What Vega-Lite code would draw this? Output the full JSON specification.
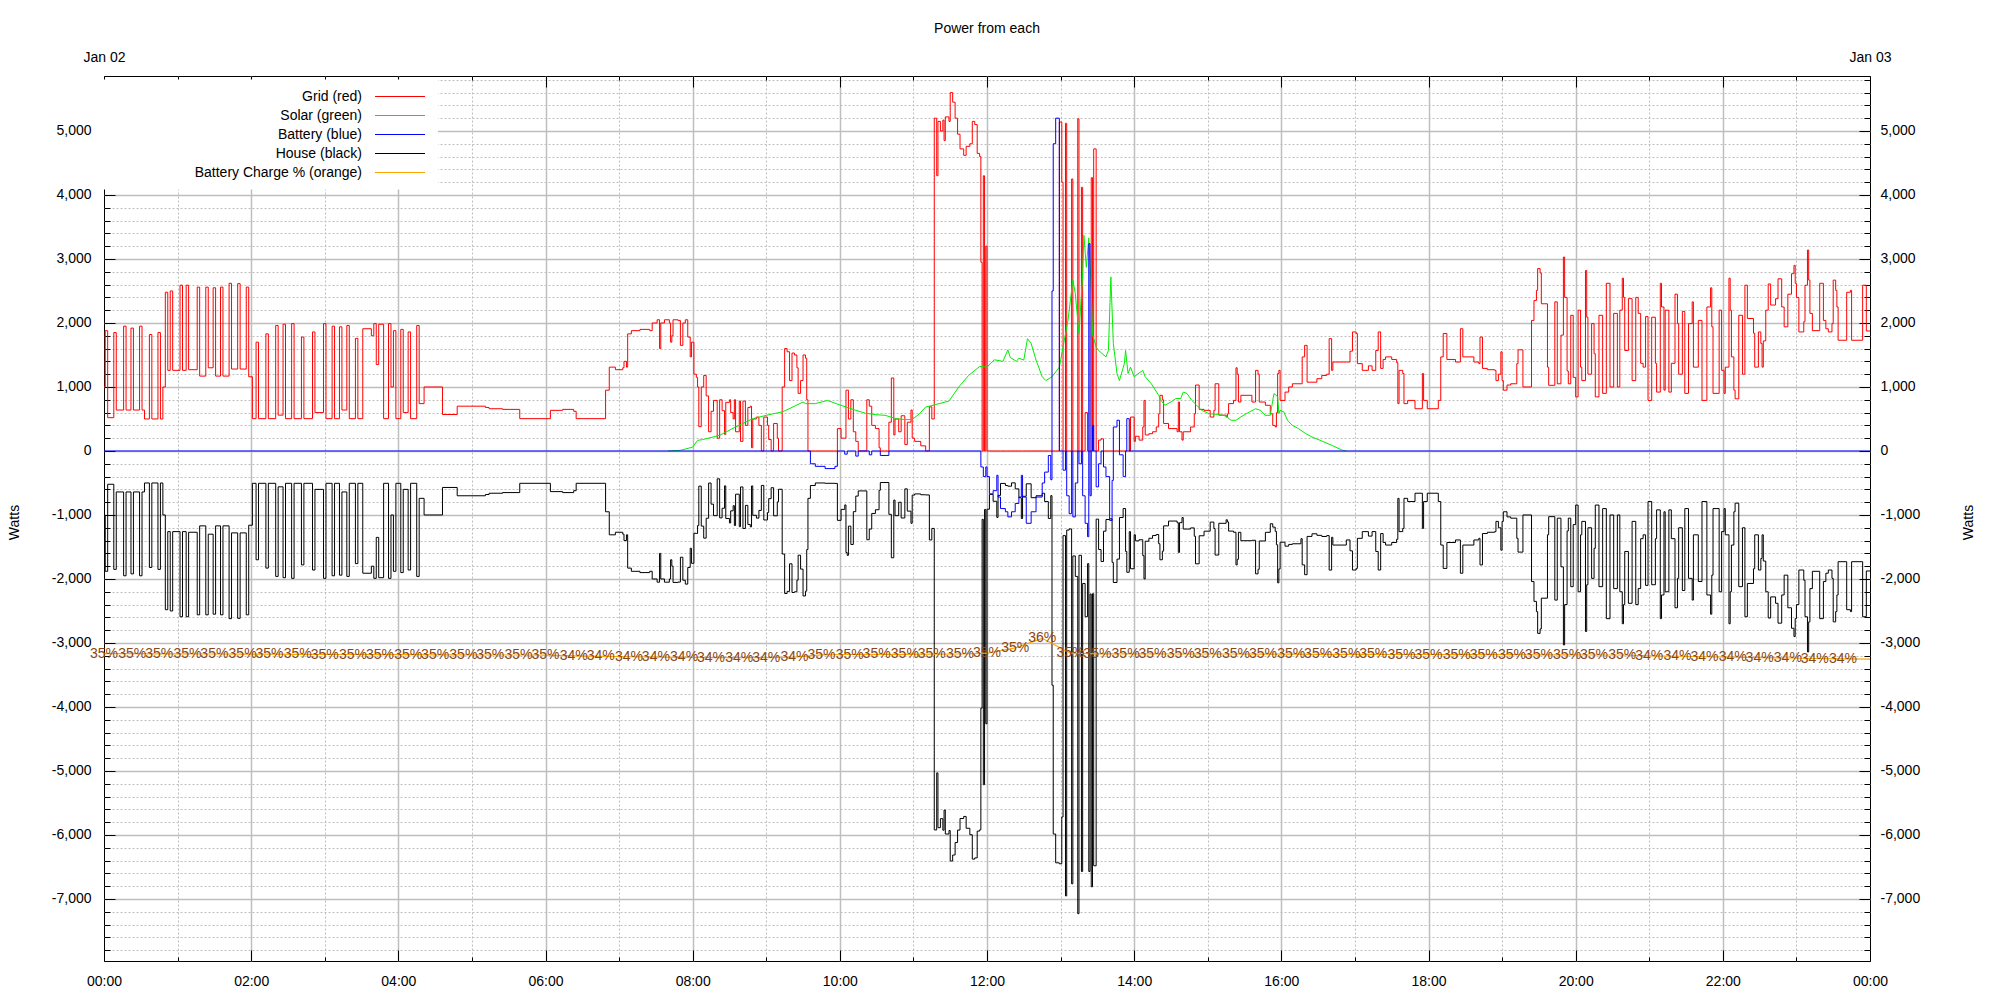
{
"$schema":"https://vega.github.io/schema/vega-lite/v6.json",
"width":1766,"height":885,
"autosize":{"type":"none"},
"padding":{"left":104,"top":76,"right":130,"bottom":39},
"title":{"text":"Power from each","fontSize":14,"fontWeight":"normal","font":"Liberation Sans","color":"black","offset":14,"anchor":"middle"},
"config":{"view":{"stroke":"black","strokeWidth":1},"font":"Liberation Sans",
"locale":{"number":{"decimal":".","thousands":",","grouping":[3],"currency":["$",""],"minus":"-"}},
"axis":{"labelFont":"Liberation Sans","labelFontSize":14,"labelColor":"black","tickColor":"black","tickWidth":1,"domain":false,"grid":false,"title":null,"labelFlush":false,"labelOverlap":false,"labelBound":false,"gridColor":"#bebebe"}},
"datasets":{
"gh":[
{"t":"2 00:00","g":1000,"h":-1000},{"t":"2 00:01","g":1880,"h":-1880},{"t":"2 00:03","g":520,"h":-520},{"t":"2 00:08","g":1850,"h":-1850},{"t":"2 00:10","g":640,"h":-640},{"t":"2 00:16","g":1950,"h":-1950},{"t":"2 00:18","g":640,"h":-640},{"t":"2 00:22","g":1920,"h":-1920},{"t":"2 00:24","g":640,"h":-640},{"t":"2 00:29","g":1950,"h":-1950},{"t":"2 00:31","g":640,"h":-640},{"t":"2 00:33","g":500,"h":-500},{"t":"2 00:37","g":1820,"h":-1820},{"t":"2 00:39","g":500,"h":-500},{"t":"2 00:44","g":1850,"h":-1850},{"t":"2 00:46","g":500,"h":-500},{"t":"2 00:48","g":1000,"h":-1000},{"t":"2 00:50","g":2480,"h":-2480},{"t":"2 00:52","g":1260,"h":-1260},{"t":"2 00:54","g":2500,"h":-2500},{"t":"2 00:56","g":1260,"h":-1260},{"t":"2 01:02","g":2590,"h":-2590},{"t":"2 01:04","g":1260,"h":-1260},{"t":"2 01:07","g":2590,"h":-2590},{"t":"2 01:09","g":1270,"h":-1270},{"t":"2 01:16","g":2560,"h":-2560},{"t":"2 01:18","g":1170,"h":-1170},{"t":"2 01:23","g":2560,"h":-2560},{"t":"2 01:25","g":1300,"h":-1300},{"t":"2 01:29","g":2550,"h":-2550},{"t":"2 01:31","g":1170,"h":-1170},{"t":"2 01:35","g":2560,"h":-2560},{"t":"2 01:37","g":1170,"h":-1170},{"t":"2 01:42","g":2620,"h":-2620},{"t":"2 01:44","g":1280,"h":-1280},{"t":"2 01:49","g":2615,"h":-2615},{"t":"2 01:51","g":1280,"h":-1280},{"t":"2 01:56","g":2560,"h":-2560},{"t":"2 01:58","g":1160,"h":-1160},
{"t":"2 02:01","g":505,"h":-505},{"t":"2 02:04","g":1700,"h":-1700},{"t":"2 02:06","g":505,"h":-505},{"t":"2 02:12","g":1830,"h":-1830},{"t":"2 02:14","g":505,"h":-505},{"t":"2 02:20","g":1960,"h":-1960},{"t":"2 02:22","g":560,"h":-560},{"t":"2 02:26","g":1980,"h":-1980},{"t":"2 02:28","g":505,"h":-505},{"t":"2 02:33","g":1990,"h":-1990},{"t":"2 02:35","g":505,"h":-505},{"t":"2 02:41","g":1780,"h":-1780},{"t":"2 02:43","g":505,"h":-505},{"t":"2 02:50","g":1860,"h":-1860},{"t":"2 02:52","g":600,"h":-600},{"t":"2 02:59","g":1990,"h":-1990},{"t":"2 03:01","g":505,"h":-505},{"t":"2 03:06","g":1950,"h":-1950},{"t":"2 03:08","g":505,"h":-505},{"t":"2 03:12","g":1940,"h":-1940},{"t":"2 03:14","g":640,"h":-640},{"t":"2 03:18","g":1960,"h":-1960},{"t":"2 03:20","g":505,"h":-505},{"t":"2 03:25","g":1760,"h":-1760},{"t":"2 03:27","g":505,"h":-505},{"t":"2 03:31","g":1910,"h":-1910},{"t":"2 03:38","g":1800,"h":-1800},{"t":"2 03:40","g":1990,"h":-1990},{"t":"2 03:42","g":1350,"h":-1350},{"t":"2 03:44","g":1980,"h":-1980},{"t":"2 03:48","g":505,"h":-505},{"t":"2 03:52","g":1990,"h":-1990},{"t":"2 03:54","g":1000,"h":-1000},{"t":"2 03:56","g":1880,"h":-1880},{"t":"2 03:58","g":505,"h":-505},{"t":"2 04:02","g":1900,"h":-1900},{"t":"2 04:04","g":600,"h":-600},{"t":"2 04:08","g":1860,"h":-1860},{"t":"2 04:10","g":505,"h":-505},{"t":"2 04:15","g":1960,"h":-1960},{"t":"2 04:17","g":740,"h":-740},{"t":"2 04:21","g":1000,"h":-1000},{"t":"2 04:36","g":570,"h":-570},{"t":"2 04:48","g":700,"h":-700},{"t":"2 05:11","g":680,"h":-680},{"t":"2 05:14","g":660,"h":-660},{"t":"2 05:25","g":650,"h":-650},{"t":"2 05:39","g":505,"h":-505},{"t":"2 06:04","g":635,"h":-635},{"t":"2 06:14","g":650,"h":-650},{"t":"2 06:23","g":620,"h":-620},{"t":"2 06:25","g":505,"h":-505},{"t":"2 06:49","g":950,"h":-950},{"t":"2 06:52","g":1310,"h":-1310},{"t":"2 06:57","g":1270,"h":-1270},{"t":"2 07:03","g":1300,"h":-1300},{"t":"2 07:04","g":1400,"h":-1400},{"t":"2 07:06","g":1310,"h":-1310},{"t":"2 07:07","g":1830,"h":-1830},{"t":"2 07:10","g":1880,"h":-1880},{"t":"2 07:17","g":1900,"h":-1900},{"t":"2 07:25","g":1880,"h":-1880},{"t":"2 07:27","g":2000,"h":-2000},{"t":"2 07:31","g":2050,"h":-2050},{"t":"2 07:33","g":1600,"h":-1600},{"t":"2 07:34","g":2000,"h":-2000},{"t":"2 07:37","g":2050,"h":-2050},
{"t":"2 07:41","g":2000,"h":-2000},{"t":"2 07:42","g":1700,"h":-1700},{"t":"2 07:43","g":1800,"h":-1800},{"t":"2 07:44","g":2050,"h":-2054},{"t":"2 07:48","g":2040,"h":-2048},{"t":"2 07:50","g":1650,"h":-1660},{"t":"2 07:52","g":2000,"h":-2020},{"t":"2 07:54","g":2050,"h":-2080},{"t":"2 07:56","g":1780,"h":-1820},{"t":"2 07:58","g":1470,"h":-1520},{"t":"2 07:59","g":1700,"h":-1755},{"t":"2 08:01","g":1200,"h":-1286},{"t":"2 08:03","g":1150,"h":-1290},{"t":"2 08:04","g":1000,"h":-1166},{"t":"2 08:05","g":380,"h":-549},{"t":"2 08:07","g":1000,"h":-1174},{"t":"2 08:09","g":1180,"h":-1362},{"t":"2 08:11","g":860,"h":-1051},{"t":"2 08:13","g":300,"h":-501},{"t":"2 08:15","g":620,"h":-831},{"t":"2 08:17","g":790,"h":-1011},{"t":"2 08:20","g":200,"h":-435},{"t":"2 08:22","g":800,"h":-1045},{"t":"2 08:24","g":630,"h":-895},{"t":"2 08:26","g":260,"h":-545},{"t":"2 08:27","g":760,"h":-1055},{"t":"2 08:30","g":800,"h":-1125},{"t":"2 08:31","g":600,"h":-935},{"t":"2 08:33","g":500,"h":-855},{"t":"2 08:34","g":800,"h":-1165},{"t":"2 08:35","g":300,"h":-675},{"t":"2 08:38","g":780,"h":-1183},{"t":"2 08:39","g":150,"h":-562},{"t":"2 08:41","g":780,"h":-1211},{"t":"2 08:43","g":400,"h":-850},{"t":"2 08:45","g":680,"h":-1148},{"t":"2 08:47","g":700,"h":-1186},{"t":"2 08:48","g":50,"h":-546},{"t":"2 08:49","g":500,"h":-1005},{"t":"2 08:52","g":530,"h":-1049},{"t":"2 08:54","g":400,"h":-929},{"t":"2 08:56","g":0,"h":-538},{"t":"2 08:58","g":530,"h":-1078},{"t":"2 09:01","g":400,"h":-961},{"t":"2 09:02","g":180,"h":-745},{"t":"2 09:04","g":0,"h":-574},{"t":"2 09:06","g":430,"h":-1013},{"t":"2 09:09","g":200,"h":-795},{"t":"2 09:10","g":0,"h":-598},{"t":"2 09:13","g":1000,"h":-1610},{"t":"2 09:15","g":1600,"h":-2227},{"t":"2 09:17","g":1550,"h":-2194},{"t":"2 09:19","g":1100,"h":-1763},{"t":"2 09:21","g":1530,"h":-2211},{"t":"2 09:23","g":1500,"h":-2200},{"t":"2 09:25","g":1300,"h":-2018},{"t":"2 09:26","g":900,"h":-1628},{"t":"2 09:28","g":1100,"h":-1846},{"t":"2 09:30","g":1500,"h":-2265},{"t":"2 09:32","g":1450,"h":-2190},{"t":"2 09:33","g":800,"h":-1540},{"t":"2 09:34","g":0,"h":-740},{"t":"2 09:36","g":0,"h":-540},{"t":"2 09:40","g":0,"h":-500},{"t":"2 09:48","g":0,"h":-505},{"t":"2 09:56","g":0,"h":-507},{"t":"2 09:58","g":350,"h":-1084},
{"t":"2 10:01","g":200,"h":-913},{"t":"2 10:04","g":200,"h":-843},{"t":"2 10:05","g":950,"h":-1587},{"t":"2 10:06","g":950,"h":-1631},{"t":"2 10:07","g":500,"h":-1174},{"t":"2 10:09","g":800,"h":-1461},{"t":"2 10:11","g":300,"h":-948},{"t":"2 10:13","g":150,"h":-705},{"t":"2 10:15","g":0,"h":-624},{"t":"2 10:22","g":800,"h":-1387},{"t":"2 10:24","g":700,"h":-1220},{"t":"2 10:26","g":400,"h":-976},{"t":"2 10:29","g":350,"h":-918},{"t":"2 10:32","g":50,"h":-614},{"t":"2 10:33","g":0,"h":-493},{"t":"2 10:40","g":450,"h":-990},{"t":"2 10:42","g":1140,"h":-1669},{"t":"2 10:44","g":250,"h":-767},{"t":"2 10:45","g":500,"h":-1011},{"t":"2 10:48","g":300,"h":-801},{"t":"2 10:50","g":550,"h":-1047},{"t":"2 10:53","g":100,"h":-592},{"t":"2 10:55","g":450,"h":-940},{"t":"2 10:58","g":640,"h":-1130},{"t":"2 10:59","g":200,"h":-690},{"t":"2 11:01","g":150,"h":-671},{"t":"2 11:06","g":80,"h":-684},{"t":"2 11:10","g":0,"h":-687},{"t":"2 11:13","g":690,"h":-1390},{"t":"2 11:15","g":500,"h":-1210},{"t":"2 11:17","g":5200,"h":-5921},{"t":"2 11:19","g":4300,"h":-5030},{"t":"2 11:20","g":5150,"h":-5886},{"t":"2 11:22","g":5000,"h":-5745},{"t":"2 11:24","g":5170,"h":-5925},{"t":"2 11:25","g":4850,"h":-5610},{"t":"2 11:26","g":5220,"h":-5985},{"t":"2 11:29","g":5150,"h":-5930},{"t":"2 11:30","g":5600,"h":-6407},{"t":"2 11:32","g":5450,"h":-6313},{"t":"2 11:34","g":5200,"h":-6118},{"t":"2 11:36","g":4950,"h":-5923},{"t":"2 11:38","g":4720,"h":-5742},{"t":"2 11:41","g":4620,"h":-5710},{"t":"2 11:43","g":4760,"h":-5895},{"t":"2 11:46","g":4800,"h":-5996},{"t":"2 11:48","g":5150,"h":-6377},{"t":"2 11:50","g":5100,"h":-6358},{"t":"2 11:52","g":4650,"h":-5939},{"t":"2 11:54","g":4600,"h":-5920},{"t":"2 11:55","g":2950,"h":-4018},{"t":"2 11:56","g":0,"h":-1068},{"t":"2 11:57","g":4300,"h":-5215},{"t":"2 11:58","g":0,"h":-913},{"t":"2 11:59","g":3200,"h":-4262},
{"t":"2 12:00","g":0,"h":-910},{"t":"2 12:02","g":0,"h":-678},{"t":"2 12:05","g":0,"h":-786},{"t":"2 12:08","g":0,"h":-1038},{"t":"2 12:09","g":0,"h":-694},{"t":"2 12:11","g":0,"h":-507},{"t":"2 12:15","g":0,"h":-540},{"t":"2 12:17","g":0,"h":-550},{"t":"2 12:20","g":0,"h":-498},{"t":"2 12:23","g":0,"h":-592},{"t":"2 12:26","g":0,"h":-730},{"t":"2 12:28","g":0,"h":-1055},{"t":"2 12:29","g":0,"h":-708},{"t":"2 12:32","g":0,"h":-513},{"t":"2 12:36","g":0,"h":-730},{"t":"2 12:40","g":0,"h":-700},{"t":"2 12:45","g":0,"h":-660},{"t":"2 12:47","g":0,"h":-790},{"t":"2 12:50","g":0,"h":-1054},{"t":"2 12:52","g":0,"h":-698},{"t":"2 12:53","g":0,"h":-3660},{"t":"2 12:54","g":0,"h":-5985},{"t":"2 12:56","g":0,"h":-6435},{"t":"2 12:59","g":5140,"h":-6450},{"t":"2 13:01","g":4200,"h":-5719},{"t":"2 13:02","g":0,"h":-1323},{"t":"2 13:04","g":5120,"h":-6952},{"t":"2 13:05","g":0,"h":-1236},{"t":"2 13:07","g":0,"h":-1218},{"t":"2 13:09","g":4250,"h":-6763},{"t":"2 13:10","g":0,"h":-1640},{"t":"2 13:12","g":0,"h":-1960},{"t":"2 13:14","g":5190,"h":-7230},{"t":"2 13:15","g":0,"h":-1630},{"t":"2 13:17","g":4120,"h":-6570},{"t":"2 13:18","g":0,"h":-2070},{"t":"2 13:20","g":600,"h":-2590},{"t":"2 13:22","g":0,"h":-1760},{"t":"2 13:23","g":0,"h":-6570},{"t":"2 13:24","g":0,"h":-2235},{"t":"2 13:25","g":4270,"h":-6810},{"t":"2 13:26","g":0,"h":-2230},{"t":"2 13:27","g":4720,"h":-6481},{"t":"2 13:29","g":0,"h":-1065},{"t":"2 13:31","g":170,"h":-1540},{"t":"2 13:33","g":190,"h":-1727},{"t":"2 13:35","g":0,"h":-1253},{"t":"2 13:37","g":0,"h":-1070},{"t":"2 13:40","g":0,"h":-1060},{"t":"2 13:42","g":0,"h":-1740},{"t":"2 13:43","g":0,"h":-2055},{"t":"2 13:46","g":0,"h":-1690},{"t":"2 13:48","g":0,"h":-1040},{"t":"2 13:51","g":0,"h":-899},{"t":"2 13:53","g":0,"h":-1570},{"t":"2 13:54","g":0,"h":-1895},{"t":"2 13:56","g":0,"h":-1260},{"t":"2 13:57","g":530,"h":-1840},
{"t":"2 14:00","g":150,"h":-1310},{"t":"2 14:01","g":230,"h":-1404},{"t":"2 14:04","g":170,"h":-1387},{"t":"2 14:07","g":375,"h":-1635},{"t":"2 14:08","g":790,"h":-2000},{"t":"2 14:09","g":250,"h":-1410},{"t":"2 14:12","g":270,"h":-1364},{"t":"2 14:15","g":300,"h":-1320},{"t":"2 14:18","g":375,"h":-1305},{"t":"2 14:20","g":580,"h":-1450},{"t":"2 14:21","g":870,"h":-1700},{"t":"2 14:23","g":800,"h":-1565},{"t":"2 14:24","g":430,"h":-1170},{"t":"2 14:28","g":350,"h":-1095},{"t":"2 14:35","g":300,"h":-1120},{"t":"2 14:36","g":765,"h":-1585},{"t":"2 14:37","g":300,"h":-1120},{"t":"2 14:39","g":170,"h":-1040},{"t":"2 14:40","g":300,"h":-1220},{"t":"2 14:46","g":375,"h":-1202},{"t":"2 14:49","g":580,"h":-1332},{"t":"2 14:50","g":1030,"h":-1763},{"t":"2 14:53","g":650,"h":-1325},{"t":"2 14:57","g":635,"h":-1253},{"t":"2 15:02","g":530,"h":-1111},{"t":"2 15:05","g":635,"h":-1212},{"t":"2 15:06","g":1050,"h":-1626},{"t":"2 15:09","g":560,"h":-1130},{"t":"2 15:15","g":530,"h":-1075},{"t":"2 15:16","g":580,"h":-1109},{"t":"2 15:17","g":740,"h":-1252},{"t":"2 15:21","g":790,"h":-1270},{"t":"2 15:23","g":1300,"h":-1780},{"t":"2 15:24","g":1200,"h":-1693},{"t":"2 15:25","g":765,"h":-1271},{"t":"2 15:27","g":870,"h":-1402},{"t":"2 15:36","g":765,"h":-1395},{"t":"2 15:39","g":1260,"h":-1920},{"t":"2 15:41","g":1200,"h":-1848},{"t":"2 15:42","g":765,"h":-1406},{"t":"2 15:47","g":714,"h":-1271},{"t":"2 15:51","g":580,"h":-1137},{"t":"2 15:53","g":400,"h":-1190},{"t":"2 15:55","g":375,"h":-1256},{"t":"2 15:56","g":600,"h":-1465},{"t":"2 15:57","g":1210,"h":-2060},{"t":"2 15:58","g":1260,"h":-1843},{"t":"2 15:59","g":790,"h":-1425},{"t":"2 16:03","g":920,"h":-1487},{"t":"2 16:06","g":1000,"h":-1460},{"t":"2 16:09","g":1050,"h":-1450},{"t":"2 16:16","g":1050,"h":-1370},{"t":"2 16:17","g":1470,"h":-1780},{"t":"2 16:19","g":1650,"h":-1933},{"t":"2 16:21","g":1075,"h":-1335},{"t":"2 16:25","g":1075,"h":-1294},{"t":"2 16:29","g":1130,"h":-1318},{"t":"2 16:33","g":1180,"h":-1336},{"t":"2 16:37","g":1200,"h":-1322},{"t":"2 16:39","g":1755,"h":-1861},{"t":"2 16:41","g":1260,"h":-1349},{"t":"2 16:42","g":1390,"h":-1470},{"t":"2 16:53","g":1390,"h":-1390},{"t":"2 16:56","g":1560,"h":-1560},{"t":"2 16:58","g":1860,"h":-1860},
{"t":"2 17:01","g":1835,"h":-1835},{"t":"2 17:02","g":1365,"h":-1365},{"t":"2 17:06","g":1260,"h":-1260},{"t":"2 17:11","g":1330,"h":-1330},{"t":"2 17:14","g":1260,"h":-1260},{"t":"2 17:17","g":1570,"h":-1570},{"t":"2 17:19","g":1860,"h":-1860},{"t":"2 17:21","g":1290,"h":-1290},{"t":"2 17:23","g":1430,"h":-1430},{"t":"2 17:25","g":1470,"h":-1470},{"t":"2 17:30","g":1430,"h":-1430},{"t":"2 17:34","g":1380,"h":-1380},{"t":"2 17:35","g":740,"h":-740},{"t":"2 17:36","g":1260,"h":-1260},{"t":"2 17:39","g":1210,"h":-1210},{"t":"2 17:40","g":740,"h":-740},{"t":"2 17:43","g":790,"h":-790},{"t":"2 17:49","g":660,"h":-660},{"t":"2 17:55","g":1210,"h":-1210},{"t":"2 17:56","g":790,"h":-790},{"t":"2 17:59","g":660,"h":-660},{"t":"2 18:08","g":790,"h":-790},{"t":"2 18:10","g":1470,"h":-1470},{"t":"2 18:12","g":1835,"h":-1835},{"t":"2 18:15","g":1430,"h":-1430},{"t":"2 18:22","g":1390,"h":-1390},{"t":"2 18:26","g":1910,"h":-1910},{"t":"2 18:28","g":1470,"h":-1470},{"t":"2 18:37","g":1390,"h":-1390},{"t":"2 18:41","g":1365,"h":-1365},{"t":"2 18:42","g":1780,"h":-1780},{"t":"2 18:44","g":1290,"h":-1290},{"t":"2 18:48","g":1270,"h":-1270},{"t":"2 18:54","g":1260,"h":-1260},{"t":"2 18:55","g":1100,"h":-1100},{"t":"2 18:57","g":1200,"h":-1200},{"t":"2 18:59","g":1550,"h":-1550},{"t":"2 19:00","g":1100,"h":-1100},{"t":"2 19:01","g":950,"h":-950},{"t":"2 19:04","g":1030,"h":-1030},{"t":"2 19:07","g":1050,"h":-1050},{"t":"2 19:12","g":1365,"h":-1365},{"t":"2 19:13","g":1580,"h":-1580},{"t":"2 19:17","g":1000,"h":-1000},{"t":"2 19:24","g":2040,"h":-2040},{"t":"2 19:26","g":2350,"h":-2350},{"t":"2 19:28","g":2510,"h":-2510},{"t":"2 19:29","g":2850,"h":-2850},{"t":"2 19:31","g":2780,"h":-2780},{"t":"2 19:32","g":2300,"h":-2300},{"t":"2 19:37","g":1310,"h":-1310},{"t":"2 19:38","g":1026,"h":-1026},{"t":"2 19:43","g":2330,"h":-2330},{"t":"2 19:45","g":1050,"h":-1050},{"t":"2 19:48","g":1810,"h":-1810},{"t":"2 19:50","g":3030,"h":-3030},{"t":"2 19:51","g":2400,"h":-2400},{"t":"2 19:53","g":1250,"h":-1250},{"t":"2 19:54","g":1050,"h":-1050},{"t":"2 19:56","g":2120,"h":-2120},{"t":"2 19:58","g":1150,"h":-1150},
{"t":"2 20:00","g":845,"h":-845},{"t":"2 20:02","g":2200,"h":-2200},{"t":"2 20:04","g":1310,"h":-1310},{"t":"2 20:05","g":1100,"h":-1100},{"t":"2 20:08","g":2820,"h":-2820},{"t":"2 20:09","g":2090,"h":-2090},{"t":"2 20:10","g":1200,"h":-1200},{"t":"2 20:13","g":1990,"h":-1990},{"t":"2 20:15","g":1520,"h":-1520},{"t":"2 20:16","g":845,"h":-845},{"t":"2 20:19","g":2120,"h":-2120},{"t":"2 20:22","g":900,"h":-900},{"t":"2 20:25","g":2620,"h":-2620},{"t":"2 20:28","g":1000,"h":-1000},{"t":"2 20:31","g":2150,"h":-2150},{"t":"2 20:34","g":1000,"h":-1000},{"t":"2 20:36","g":2200,"h":-2200},{"t":"2 20:38","g":2700,"h":-2700},{"t":"2 20:39","g":2400,"h":-2400},{"t":"2 20:40","g":1570,"h":-1570},{"t":"2 20:43","g":2380,"h":-2380},{"t":"2 20:46","g":1100,"h":-1100},{"t":"2 20:49","g":2400,"h":-2400},{"t":"2 20:51","g":2150,"h":-2150},{"t":"2 20:53","g":1370,"h":-1370},{"t":"2 20:55","g":1310,"h":-1310},{"t":"2 20:57","g":2100,"h":-2100},{"t":"2 20:59","g":790,"h":-790},{"t":"2 21:02","g":2090,"h":-2090},{"t":"2 21:05","g":1370,"h":-1370},{"t":"2 21:06","g":920,"h":-920},{"t":"2 21:09","g":2620,"h":-2620},{"t":"2 21:10","g":2250,"h":-2250},{"t":"2 21:12","g":950,"h":-950},{"t":"2 21:13","g":2200,"h":-2200},{"t":"2 21:16","g":920,"h":-920},{"t":"2 21:18","g":1370,"h":-1370},{"t":"2 21:21","g":2450,"h":-2450},{"t":"2 21:23","g":1990,"h":-1990},{"t":"2 21:24","g":1200,"h":-1200},{"t":"2 21:27","g":2180,"h":-2180},{"t":"2 21:29","g":900,"h":-900},{"t":"2 21:32","g":1990,"h":-1990},{"t":"2 21:35","g":2330,"h":-2330},{"t":"2 21:36","g":1310,"h":-1310},{"t":"2 21:40","g":2040,"h":-2040},{"t":"2 21:43","g":790,"h":-790},{"t":"2 21:47","g":2250,"h":-2250},{"t":"2 21:50","g":2550,"h":-2550},{"t":"2 21:51","g":1940,"h":-1940},{"t":"2 21:52","g":900,"h":-900},{"t":"2 21:57","g":2200,"h":-2200},{"t":"2 21:59","g":1260,"h":-1260},
{"t":"2 22:01","g":900,"h":-900},{"t":"2 22:02","g":1310,"h":-1310},{"t":"2 22:05","g":2700,"h":-2700},{"t":"2 22:06","g":2200,"h":-2200},{"t":"2 22:07","g":1470,"h":-1470},{"t":"2 22:09","g":950,"h":-950},{"t":"2 22:10","g":815,"h":-815},{"t":"2 22:13","g":2120,"h":-2120},{"t":"2 22:16","g":1200,"h":-1200},{"t":"2 22:18","g":2590,"h":-2590},{"t":"2 22:20","g":2070,"h":-2070},{"t":"2 22:25","g":1840,"h":-1840},{"t":"2 22:26","g":1310,"h":-1310},{"t":"2 22:29","g":1860,"h":-1860},{"t":"2 22:31","g":1680,"h":-1680},{"t":"2 22:32","g":1310,"h":-1310},{"t":"2 22:33","g":1720,"h":-1720},{"t":"2 22:35","g":2200,"h":-2200},{"t":"2 22:37","g":2610,"h":-2610},{"t":"2 22:39","g":2280,"h":-2280},{"t":"2 22:43","g":2380,"h":-2380},{"t":"2 22:45","g":2690,"h":-2690},{"t":"2 22:48","g":2250,"h":-2250},{"t":"2 22:50","g":1940,"h":-1940},{"t":"2 22:53","g":2450,"h":-2450},{"t":"2 22:56","g":2770,"h":-2770},{"t":"2 22:58","g":2900,"h":-2900},{"t":"2 22:59","g":2620,"h":-2620},{"t":"2 23:00","g":2400,"h":-2400},{"t":"2 23:02","g":1860,"h":-1860},{"t":"2 23:06","g":2020,"h":-2020},{"t":"2 23:07","g":2590,"h":-2590},{"t":"2 23:09","g":3140,"h":-3140},{"t":"2 23:10","g":2670,"h":-2670},{"t":"2 23:11","g":2150,"h":-2150},{"t":"2 23:13","g":1880,"h":-1880},{"t":"2 23:19","g":2620,"h":-2620},{"t":"2 23:22","g":2040,"h":-2040},{"t":"2 23:24","g":1910,"h":-1910},{"t":"2 23:26","g":1860,"h":-1860},{"t":"2 23:29","g":1990,"h":-1990},{"t":"2 23:30","g":2670,"h":-2670},{"t":"2 23:32","g":2510,"h":-2510},{"t":"2 23:33","g":2250,"h":-2250},{"t":"2 23:34","g":1730,"h":-1730},{"t":"2 23:41","g":2480,"h":-2480},{"t":"2 23:44","g":2510,"h":-2510},{"t":"2 23:45","g":1730,"h":-1730},{"t":"2 23:54","g":2590,"h":-2590},{"t":"2 23:57","g":1875,"h":-1875},{"t":"3 00:00","g":1875,"h":-1875}
],
"sol":[
{"t":"2 07:40","s":0},{"t":"2 07:50","s":10},{"t":"2 08:00","s":60},{"t":"2 08:04","s":166},{"t":"2 08:08","s":177},{"t":"2 08:22","s":245},{"t":"2 08:35","s":375},{"t":"2 08:49","s":505},{"t":"2 09:00","s":557},{"t":"2 09:06","s":583},{"t":"2 09:13","s":610},{"t":"2 09:16","s":635},{"t":"2 09:30","s":765},{"t":"2 09:32","s":740},{"t":"2 09:40","s":740},{"t":"2 09:50","s":790},{"t":"2 09:57","s":740},{"t":"2 10:05","s":687},{"t":"2 10:13","s":635},{"t":"2 10:21","s":590},{"t":"2 10:29","s":568},{"t":"2 10:37","s":557},{"t":"2 10:46","s":505},{"t":"2 10:54","s":490},{"t":"2 10:59","s":490},{"t":"2 11:05","s":583},{"t":"2 11:10","s":687},{"t":"2 11:16","s":714},{"t":"2 11:21","s":740},{"t":"2 11:29","s":780},{"t":"2 11:37","s":1000},{"t":"2 11:45","s":1180},{"t":"2 11:54","s":1320},{"t":"2 12:00","s":1310},{"t":"2 12:06","s":1425},{"t":"2 12:13","s":1400},{"t":"2 12:17","s":1580},{"t":"2 12:19","s":1460},{"t":"2 12:24","s":1400},{"t":"2 12:26","s":1450},{"t":"2 12:30","s":1420},{"t":"2 12:33","s":1755},{"t":"2 12:36","s":1680},{"t":"2 12:40","s":1420},{"t":"2 12:45","s":1160},{"t":"2 12:48","s":1100},{"t":"2 12:53","s":1160},{"t":"2 12:59","s":1310},{"t":"2 13:06","s":2040},{"t":"2 13:10","s":2670},{"t":"2 13:12","s":2460},{"t":"2 13:15","s":1830},{"t":"2 13:18","s":2770},{"t":"2 13:19","s":3370},{"t":"2 13:21","s":2870},{"t":"2 13:23","s":3330},{"t":"2 13:25","s":2540},{"t":"2 13:26","s":1830},{"t":"2 13:29","s":1625},{"t":"2 13:31","s":1570},{"t":"2 13:37","s":1470},{"t":"2 13:39","s":1570},{"t":"2 13:41","s":2720},{"t":"2 13:43","s":1680},{"t":"2 13:46","s":1210},{"t":"2 13:48","s":1100},{"t":"2 13:52","s":1365},{"t":"2 13:53","s":1570},{"t":"2 13:55","s":1210},{"t":"2 13:57","s":1310},{"t":"2 14:00","s":1160},{"t":"2 14:07","s":1260},{"t":"2 14:09","s":1160},{"t":"2 14:14","s":1050},{"t":"2 14:20","s":870},{"t":"2 14:22","s":790},{"t":"2 14:25","s":714},{"t":"2 14:30","s":765},{"t":"2 14:34","s":820},{"t":"2 14:38","s":820},{"t":"2 14:40","s":920},{"t":"2 14:43","s":900},{"t":"2 14:47","s":790},{"t":"2 14:51","s":714},{"t":"2 14:55","s":635},{"t":"2 15:01","s":583},{"t":"2 15:09","s":570},{"t":"2 15:15","s":545},{"t":"2 15:19","s":480},{"t":"2 15:23","s":480},{"t":"2 15:28","s":545},{"t":"2 15:34","s":610},{"t":"2 15:39","s":660},{"t":"2 15:43","s":635},{"t":"2 15:47","s":557},{"t":"2 15:51","s":557},{"t":"2 15:53","s":790},{"t":"2 15:54","s":896},{"t":"2 15:57","s":850},{"t":"2 15:58","s":583},{"t":"2 15:59","s":635},{"t":"2 16:02","s":610},{"t":"2 16:05","s":480},{"t":"2 16:09","s":400},{"t":"2 16:14","s":349},{"t":"2 16:20","s":270},{"t":"2 16:25","s":219},{"t":"2 16:33","s":156},{"t":"2 16:41","s":89},{"t":"2 16:50","s":10},{"t":"2 16:53","s":0}
],
"bat":[
{"t":"2 00:00","b":0},{"t":"2 09:36","b":-200},{"t":"2 09:40","b":-240},{"t":"2 09:48","b":-275},{"t":"2 09:56","b":-240},{"t":"2 09:58","b":0},{"t":"2 10:04","b":-50},{"t":"2 10:06","b":0},{"t":"2 10:13","b":-80},{"t":"2 10:15","b":0},{"t":"2 10:24","b":-60},{"t":"2 10:26","b":0},{"t":"2 10:33","b":-70},{"t":"2 10:40","b":0},{"t":"2 11:55","b":-250},{"t":"2 11:57","b":-400},{"t":"2 11:59","b":-250},{"t":"2 12:00","b":-400},{"t":"2 12:02","b":-670},{"t":"2 12:05","b":-620},{"t":"2 12:08","b":-380},{"t":"2 12:09","b":-720},{"t":"2 12:11","b":-900},{"t":"2 12:15","b":-950},{"t":"2 12:17","b":-1030},{"t":"2 12:20","b":-950},{"t":"2 12:23","b":-820},{"t":"2 12:26","b":-720},{"t":"2 12:28","b":-380},{"t":"2 12:29","b":-720},{"t":"2 12:32","b":-1130},{"t":"2 12:36","b":-950},{"t":"2 12:40","b":-720},{"t":"2 12:45","b":-500},{"t":"2 12:47","b":-330},{"t":"2 12:50","b":-70},{"t":"2 12:52","b":-450},{"t":"2 12:53","b":2500},{"t":"2 12:54","b":4800},{"t":"2 12:56","b":5200},{"t":"2 12:59","b":0},{"t":"2 13:02","b":-300},{"t":"2 13:04","b":0},{"t":"2 13:05","b":-700},{"t":"2 13:07","b":-980},{"t":"2 13:09","b":0},{"t":"2 13:10","b":-1030},{"t":"2 13:12","b":-500},{"t":"2 13:14","b":0},{"t":"2 13:15","b":-200},{"t":"2 13:17","b":0},{"t":"2 13:18","b":-700},{"t":"2 13:20","b":-1130},{"t":"2 13:22","b":-1340},{"t":"2 13:23","b":3240},{"t":"2 13:24","b":-700},{"t":"2 13:25","b":0},{"t":"2 13:26","b":400},{"t":"2 13:27","b":0},{"t":"2 13:29","b":-560},{"t":"2 13:31","b":-200},{"t":"2 13:33","b":0},{"t":"2 13:35","b":-250},{"t":"2 13:37","b":-400},{"t":"2 13:40","b":-1085},{"t":"2 13:42","b":-460},{"t":"2 13:43","b":375},{"t":"2 13:46","b":480},{"t":"2 13:48","b":-60},{"t":"2 13:51","b":-400},{"t":"2 13:53","b":0},{"t":"2 13:54","b":505},{"t":"2 13:56","b":0},{"t":"3 00:00","b":0}
],
"chg":[
{"t":"2 00:00","c":35.1,"l":"35%"},{"t":"2 00:23","c":35.09,"l":"35%"},{"t":"2 00:45","c":35.08,"l":"35%"},{"t":"2 01:08","c":35.08,"l":"35%"},{"t":"2 01:30","c":35.07,"l":"35%"},{"t":"2 01:53","c":35.06,"l":"35%"},{"t":"2 02:15","c":35.06,"l":"35%"},{"t":"2 02:38","c":35.05,"l":"35%"},{"t":"2 03:00","c":35.04,"l":"35%"},{"t":"2 03:23","c":35.04,"l":"35%"},{"t":"2 03:45","c":35.03,"l":"35%"},{"t":"2 04:08","c":35.03,"l":"35%"},{"t":"2 04:30","c":35.02,"l":"35%"},{"t":"2 04:53","c":35.02,"l":"35%"},{"t":"2 05:15","c":35.01,"l":"35%"},{"t":"2 05:38","c":35.01,"l":"35%"},{"t":"2 06:00","c":35.0,"l":"35%"},{"t":"2 06:23","c":34.95,"l":"34%"},{"t":"2 06:45","c":34.92,"l":"34%"},{"t":"2 07:08","c":34.9,"l":"34%"},{"t":"2 07:30","c":34.88,"l":"34%"},{"t":"2 07:53","c":34.86,"l":"34%"},{"t":"2 08:15","c":34.85,"l":"34%"},{"t":"2 08:38","c":34.84,"l":"34%"},{"t":"2 09:00","c":34.84,"l":"34%"},{"t":"2 09:23","c":34.88,"l":"34%"},{"t":"2 09:45","c":35.02,"l":"35%"},{"t":"2 10:08","c":35.04,"l":"35%"},{"t":"2 10:30","c":35.05,"l":"35%"},{"t":"2 10:53","c":35.05,"l":"35%"},{"t":"2 11:15","c":35.06,"l":"35%"},{"t":"2 11:38","c":35.07,"l":"35%"},{"t":"2 12:00","c":35.12,"l":"35%"},{"t":"2 12:23","c":35.45,"l":"35%"},{"t":"2 12:45","c":36.05,"l":"36%"},{"t":"2 13:08","c":35.12,"l":"35%"},{"t":"2 13:30","c":35.08,"l":"35%"},{"t":"2 13:53","c":35.08,"l":"35%"},{"t":"2 14:15","c":35.08,"l":"35%"},{"t":"2 14:38","c":35.07,"l":"35%"},{"t":"2 15:00","c":35.07,"l":"35%"},{"t":"2 15:23","c":35.07,"l":"35%"},{"t":"2 15:45","c":35.06,"l":"35%"},{"t":"2 16:08","c":35.06,"l":"35%"},{"t":"2 16:30","c":35.05,"l":"35%"},{"t":"2 16:53","c":35.05,"l":"35%"},{"t":"2 17:15","c":35.05,"l":"35%"},{"t":"2 17:38","c":35.04,"l":"35%"},{"t":"2 18:00","c":35.04,"l":"35%"},{"t":"2 18:23","c":35.03,"l":"35%"},{"t":"2 18:45","c":35.03,"l":"35%"},{"t":"2 19:08","c":35.03,"l":"35%"},{"t":"2 19:30","c":35.02,"l":"35%"},{"t":"2 19:53","c":35.02,"l":"35%"},{"t":"2 20:15","c":35.01,"l":"35%"},{"t":"2 20:38","c":35.01,"l":"35%"},{"t":"2 21:00","c":34.96,"l":"34%"},{"t":"2 21:23","c":34.93,"l":"34%"},{"t":"2 21:45","c":34.9,"l":"34%"},{"t":"2 22:08","c":34.88,"l":"34%"},{"t":"2 22:30","c":34.85,"l":"34%"},{"t":"2 22:53","c":34.82,"l":"34%"},{"t":"2 23:15","c":34.79,"l":"34%"},{"t":"2 23:38","c":34.77,"l":"34%"},{"t":"3 00:00","c":34.75}
]
},
"layer":[
{"data":{"name":"gh","format":{"parse":{"t":"utc:'%d %H:%M'"}}},
 "layer":[
 {"mark":{"type":"line","interpolate":"step-after","strokeWidth":1},
 "encoding":{
  "x":{"field":"t","type":"temporal","scale":{"type":"utc","domain":[-2208902400000,-2208816000000]},
   "axis":{"orient":"bottom","values":[-2208902400000,-2208895200000,-2208888000000,-2208880800000,-2208873600000,-2208866400000,-2208859200000,-2208852000000,-2208844800000,-2208837600000,-2208830400000,-2208823200000,-2208816000000],"labelExpr":"utcFormat(datum.value, '%H:%M')","tickSize":-11,"labelPadding":24}},
  "y":{"field":"g","type":"quantitative","scale":{"domain":[-7969,5859],"nice":false,"zero":false},
   "axis":{"orient":"left","values":[-7000,-6000,-5000,-4000,-3000,-2000,-1000,0,1000,2000,3000,4000,5000],"format":",d","tickSize":-11,"labelPadding":24,"grid":true,"gridWidth":1.5,"title":"Watts","titleFontSize":14,"titleFontWeight":"normal","titleColor":"black","titleX":-90,"titleY":446,"titleAngle":-90,"titleAlign":"center","titleBaseline":"middle"}},
  "color":{"datum":"Grid (red)","scale":{"domain":["Grid (red)","Solar (green)","Battery (blue)","House (black)","Battery Charge % (orange)"],"range":["#ff0000","#00ee00","#0000ff","#000000","#ffa500"]},
   "legend":{"orient":"none","legendX":0,"legendY":3.5,"title":" ","titleOrient":"left","titlePadding":279,"titleFontSize":14,"fillColor":"white","padding":10,"symbolType":"M-5,0H5","symbolSize":100,"symbolStrokeWidth":1.2,"labelAlign":"right","labelOffset":-45,"labelFontSize":14,"labelFont":"Liberation Sans","labelColor":"black","rowPadding":5,"labelLimit":400}}
 }},
 {"mark":{"type":"line","interpolate":"step-after","strokeWidth":1},
 "encoding":{
  "x":{"field":"t","type":"temporal","scale":{"type":"utc","domain":[-2208902400000,-2208816000000]},
   "axis":{"orient":"top","values":[-2208898800000,-2208891600000,-2208884400000,-2208877200000,-2208870000000,-2208862800000,-2208855600000,-2208848400000,-2208841200000,-2208834000000,-2208826800000,-2208819600000],"labels":false,"tickSize":-4}},
  "y":{"field":"h","type":"quantitative","scale":{"domain":[-7969,5859],"nice":false,"zero":false},
   "axis":{"orient":"right","values":[-7800,-7600,-7400,-7200,-6800,-6600,-6400,-6200,-5800,-5600,-5400,-5200,-4800,-4600,-4400,-4200,-3800,-3600,-3400,-3200,-2800,-2600,-2400,-2200,-1800,-1600,-1400,-1200,-800,-600,-400,-200,200,400,600,800,1200,1400,1600,1800,2200,2400,2600,2800,3200,3400,3600,3800,4200,4400,4600,4800,5200,5400,5600,5800],"labels":false,"tickSize":-6}},
  "color":{"datum":"House (black)"}
 }}
 ],
 "resolve":{"axis":{"x":"independent","y":"independent"}}
},
{"data":{"name":"sol","format":{"parse":{"t":"utc:'%d %H:%M'"}}},
 "mark":{"type":"line","strokeWidth":1},
 "encoding":{
  "x":{"field":"t","type":"temporal","scale":{"type":"utc","domain":[-2208902400000,-2208816000000]},
   "axis":{"orient":"bottom","values":[-2208898800000,-2208891600000,-2208884400000,-2208877200000,-2208870000000,-2208862800000,-2208855600000,-2208848400000,-2208841200000,-2208834000000,-2208826800000,-2208819600000],"labels":false,"tickSize":-4,"grid":true,"gridDash":[2,2],"gridWidth":1}},
  "y":{"field":"s","type":"quantitative","scale":{"domain":[-7969,5859],"nice":false,"zero":false},
   "axis":{"orient":"left","values":[-7800,-7600,-7400,-7200,-6800,-6600,-6400,-6200,-5800,-5600,-5400,-5200,-4800,-4600,-4400,-4200,-3800,-3600,-3400,-3200,-2800,-2600,-2400,-2200,-1800,-1600,-1400,-1200,-800,-600,-400,-200,200,400,600,800,1200,1400,1600,1800,2200,2400,2600,2800,3200,3400,3600,3800,4200,4400,4600,4800,5200,5400,5600,5800],"labels":false,"tickSize":-6,"grid":true,"gridDash":[2,2],"gridWidth":1}},
  "color":{"datum":"Solar (green)"}
 }},
{"data":{"name":"bat","format":{"parse":{"t":"utc:'%d %H:%M'"}}},
 "mark":{"type":"line","interpolate":"step-after","strokeWidth":1},
 "encoding":{
  "x":{"field":"t","type":"temporal","scale":{"type":"utc","domain":[-2208902400000,-2208816000000]},
   "axis":{"orient":"top","values":[-2208902400000,-2208895200000,-2208888000000,-2208880800000,-2208873600000,-2208866400000,-2208859200000,-2208852000000,-2208844800000,-2208837600000,-2208830400000,-2208823200000,-2208816000000],"labelExpr":"utchours(datum.value) == 0 ? utcFormat(datum.value, '%b %d') : ''","tickSize":-11,"labelPadding":23}},
  "y":{"field":"b","type":"quantitative","scale":{"domain":[-7969,5859],"nice":false,"zero":false},
   "axis":{"orient":"right","values":[-7000,-6000,-5000,-4000,-3000,-2000,-1000,0,1000,2000,3000,4000,5000],"format":",d","tickSize":-11,"labelPadding":21,"title":"Watts","titleFontSize":14,"titleFontWeight":"normal","titleColor":"black","titleX":98,"titleY":446,"titleAngle":-90,"titleAlign":"center","titleBaseline":"middle"}},
  "color":{"datum":"Battery (blue)"}
 }},
{"data":{"name":"chg","format":{"parse":{"t":"utc:'%d %H:%M'"}}},
 "layer":[
 {"mark":{"type":"line","strokeWidth":1.2},
 "encoding":{
  "x":{"field":"t","type":"temporal","scale":{"type":"utc","domain":[-2208902400000,-2208816000000]},
   "axis":{"orient":"bottom","values":[-2208895200000,-2208888000000,-2208880800000,-2208873600000,-2208866400000,-2208859200000,-2208852000000,-2208844800000,-2208837600000,-2208830400000,-2208823200000],"labels":false,"ticks":false,"grid":true,"gridWidth":1.5}},
  "y":{"field":"c","type":"quantitative","scale":{"domain":[15.884,71.196],"nice":false,"zero":false},"axis":null},
  "color":{"datum":"Battery Charge % (orange)"}
 }},
 {"transform":[{"filter":"datum.l"}],
 "mark":{"type":"text","fontSize":14,"font":"Liberation Sans","color":"#8b4513","align":"center","baseline":"middle"},
 "encoding":{
  "x":{"field":"t","type":"temporal","scale":{"type":"utc","domain":[-2208902400000,-2208816000000]},"axis":null},
  "y":{"field":"c","type":"quantitative","scale":{"domain":[15.884,71.196],"nice":false,"zero":false},"axis":null},
  "text":{"field":"l"}
 }}
 ],
 "resolve":{"axis":{"x":"independent"}}
}
],
"resolve":{"scale":{"y":"independent"},"axis":{"x":"independent","y":"independent"}}
}
